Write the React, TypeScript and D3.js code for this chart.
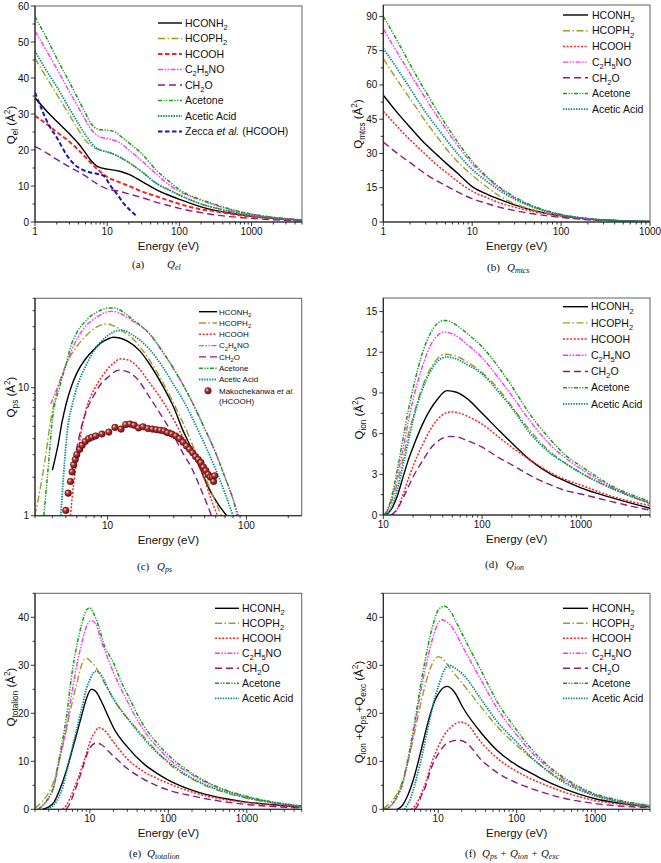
import React from 'react';
import * as d3 from 'd3';

type Pt = [number, number];

const legendLabels = ['HCONH_{2}', 'HCOPH_{2}', 'HCOOH', 'C_{2}H_{5}NO', 'CH_{2}O', 'Acetone', 'Acetic Acid'];
const seriesKeys = ['HCONH2', 'HCOPH2', 'HCOOH', 'C2H5NO', 'CH2O', 'Acetone', 'AceticAcid'];

// (a) Q_el
const elHCONH2: Pt[] = [[1,34.5],[1.5,30.5],[2,28],[3,24.5],[4,21.8],[5,19.2],[6,17],[7,15.7],[8,15.1],[10,14.7],[15,14.1],[20,13.2],[30,11.3],[50,8.8],[70,7.5],[100,6.3],[200,4.2],[300,3.3],[500,2.5],[1000,1.6],[2000,1.0],[5000,0.5]];
const elHCOPH2: Pt[] = [[1,45.5],[1.5,39.5],[2,35.5],[3,29.7],[4,25.6],[5,22.7],[6,21.2],[7,20.4],[8,20],[10,19.5],[15,18],[20,16.5],[30,14],[50,10.5],[70,9],[100,7.5],[200,5],[300,4],[500,3],[1000,1.8],[2000,1.1],[5000,0.5]];
const elHCOOH: Pt[] = [[1,29.5],[1.5,27],[2,25],[3,22.3],[4,20],[5,18],[6,16.3],[7,15],[8,14],[10,12.5],[15,11],[20,10],[30,8.5],[50,7],[70,6],[100,5],[200,3.5],[300,3],[500,2.3],[1000,1.5],[2000,1],[5000,0.4]];
const elC2H5NO: Pt[] = [[1,53],[1.5,47],[2,42.6],[3,36.2],[4,31.8],[5,28.3],[6,25.7],[7,24.3],[8,23.6],[10,23.2],[15,22],[20,20],[30,17],[50,13],[70,10.5],[100,8.5],[200,6],[300,4.8],[500,3.5],[1000,2.2],[2000,1.3],[5000,0.6]];
const elCH2O: Pt[] = [[1,21],[1.5,19],[2,17.4],[3,15.3],[5,12.8],[7,10.8],[10,9.2],[15,8.5],[20,7.8],[30,6.8],[50,5.4],[70,4.6],[100,3.8],[200,2.6],[300,2],[500,1.5],[1000,1],[2000,0.6],[5000,0.3]];
const elAcetone: Pt[] = [[1,57],[1.5,50.5],[2,45.5],[3,38.8],[4,34],[5,30.2],[6,27.3],[7,26],[8,25.6],[10,25.5],[13,25],[15,24],[20,22],[30,19],[50,14],[70,11.5],[100,9],[200,6.2],[300,5],[500,3.6],[1000,2.2],[2000,1.3],[5000,0.6]];
const elAceticAcid: Pt[] = [[1,47.5],[1.5,41.5],[2,37.6],[3,31.5],[4,27.3],[5,24.2],[6,22],[7,20.6],[8,20],[10,19.5],[15,18],[20,16.5],[30,14],[50,10.5],[70,9],[100,7.5],[200,5],[300,4],[500,3],[1000,1.9],[2000,1.1],[5000,0.5]];
const elZecca: Pt[] = [[1,36],[1.6,26.5],[2,23.5],[2.76,18.5],[3.5,16],[4.7,14.4],[6,13.7],[7.2,13.4],[9,12.8],[11,10.2],[14,7.5],[17,5.1],[21,3.2],[25,1.8]];

// (b) Q_mtcs
const mtHCONH2: Pt[] = [[1,55.5],[1.5,47],[2,41.5],[3,34],[4,29.5],[5,26],[7,21],[10,15.5],[15,12],[20,10],[30,7.5],[50,5],[100,2.7],[200,1.3],[500,0.5],[1000,0.2]];
const mtHCOPH2: Pt[] = [[1,71.5],[1.5,61],[2,54],[3,44],[4,37.5],[5,32.5],[7,26],[10,20.5],[15,15],[20,11.5],[30,8],[50,5.2],[100,2.8],[200,1.3],[500,0.5],[1000,0.2]];
const mtHCOOH: Pt[] = [[1,48.5],[1.5,41],[2,36],[3,29.5],[4,25],[5,22],[7,17.5],[10,13.5],[15,10.5],[20,8.5],[30,6.5],[50,4.5],[100,2.5],[200,1.2],[500,0.4],[1000,0.15]];
const mtC2H5NO: Pt[] = [[1,84.5],[1.5,73],[2,65],[3,54],[4,46.5],[5,41],[7,33],[10,25.5],[15,19],[20,15],[30,10.5],[50,6.5],[100,3.2],[200,1.5],[500,0.5],[1000,0.2]];
const mtCH2O: Pt[] = [[1,35],[1.5,29.5],[2,26],[3,21],[4,18],[5,16],[7,13],[10,10.2],[15,8],[20,6.5],[30,5],[50,3.5],[100,2],[200,1],[500,0.4],[1000,0.15]];
const mtAcetone: Pt[] = [[1,90],[1.5,78],[2,69],[3,57],[4,49],[5,43],[7,34.5],[10,26.5],[15,19.5],[20,15.5],[30,11],[50,6.8],[100,3.3],[200,1.5],[500,0.5],[1000,0.2]];
const mtAceticAcid: Pt[] = [[1,76],[1.5,66],[2,58.5],[3,48],[4,41.5],[5,36.5],[7,29.5],[10,23],[15,17.5],[20,14],[30,10],[50,6.3],[100,3.1],[200,1.4],[500,0.5],[1000,0.2]];

// (c) Q_ps
const psHCONH2: Pt[] = [[4,2.27],[4.4,3.6],[4.7,5.4],[5,7.3],[5.5,10.3],[6,13],[7,17],[8,20],[9,22.5],[10,24],[11,24.8],[12,24.6],[14,23],[17,19.5],[20,15.4],[25,10.3],[30,7],[35,4.6],[40,3.4],[46,2.4],[55,1.55],[62,1.25],[72,1]];
const psHCOPH2: Pt[] = [[3,1],[3.5,2.5],[3.9,5.6],[4.5,11],[5,15],[6,21],[7,25.5],[8,29],[9,31],[10,31.5],[11,30.5],[13,27.5],[15,24.5],[20,16.5],[25,11],[30,7.5],[40,3.8],[46,2.6],[55,1.6],[66,1]];
const psHCOOH: Pt[] = [[5.4,1],[5.7,1.8],[6,2.7],[6.7,5.6],[7,6.8],[8,9.7],[9,12],[10,14],[11,15.5],[12.3,16.8],[14,16.5],[16,15],[20,11],[25,7.8],[30,5.6],[35,4.1],[40,3.2],[50,1.9],[57,1.25],[62,1]];
const psC2H5NO: Pt[] = [[3.9,7.5],[4.5,11],[5,15],[6,24],[7,30.5],[8,34.5],[9,37.5],[10,39.3],[11,39.5],[13,37],[15,33.5],[20,26.5],[25,19],[30,14],[40,8],[50,4.8],[60,3.1],[70,2],[80,1.35],[88,1]];
const psCH2O: Pt[] = [[5.5,2.2],[6,3.4],[6.5,5],[7,6.5],[8,8.8],[9,10.8],[10,12],[12,13.7],[14,13.3],[16,12],[20,8.5],[25,5.8],[30,4.2],[35,3.06],[40,2.4],[46,1.7],[53,1.17],[56,1]];
const psAcetone: Pt[] = [[3.47,1],[3.75,2.5],[4,5.6],[4.5,10],[5,15],[5.5,22],[6,27],[7,33.5],[8,38],[9,40.5],[10,42],[11,42],[13,39],[15,34.5],[20,26.4],[25,19],[30,14],[40,8],[50,4.8],[60,3.1],[70,2],[80,1.35],[86,1]];
const psAceticAcid: Pt[] = [[4.6,1],[5.25,5.6],[5.5,7],[6,10],[7,15],[8,19.5],[9,23],[10,25.5],[12,28],[13,28],[15,26],[20,20],[25,14.5],[30,10.5],[35,8],[46,4.4],[60,2.3],[70,1.5],[80,1]];
const psMakochekanwa: Pt[] = [[5.0,1.1],[5.2,1.5],[5.4,1.85],[5.55,2.2],[5.7,2.5],[5.85,2.75],[6.0,3.0],[6.3,3.3],[6.55,3.55],[6.9,3.8],[7.3,4.0],[7.7,4.1],[8.2,4.2],[9.1,4.35],[10.2,4.5],[11.3,4.9],[12.5,4.75],[13.5,5.15],[14.5,5.2],[15.5,5.1],[16.7,4.85],[18,4.95],[19.5,4.8],[21,4.75],[22.5,4.7],[24,4.65],[25.5,4.6],[27,4.45],[29,4.35],[31,4.2],[33,4.0],[35,3.75],[37,3.5],[39,3.3],[41,3.1],[43,2.9],[45,2.75],[47,2.6],[49,2.4],[51,2.25],[53,2.1],[55,2.0],[57,2.0],[58,1.85],[59,2.05]];

// (d) Q_ion
const ionHCONH2: Pt[] = [[10.5,0],[12,0.4],[14,1.5],[16,2.9],[18,4.1],[20,5],[25,6.7],[30,7.8],[35,8.5],[44,9.17],[55,9.05],[70,8.6],[100,7.5],[150,6.2],[200,5.3],[300,4.1],[500,3.0],[700,2.5],[1000,2.0],[2000,1.3],[5000,0.5]];
const ionHCOPH2: Pt[] = [[10.2,0],[11,0.3],[12,0.9],[14,2.5],[16,4.3],[18,6],[20,7.2],[25,9.5],[30,10.8],[35,11.5],[42,11.85],[55,11.7],[70,11.3],[100,10.5],[150,9.2],[200,8],[300,6.3],[500,4.6],[700,3.8],[1000,3.1],[2000,2.0],[5000,0.85]];
const ionHCOOH: Pt[] = [[12.5,0],[14,0.5],[16,1.6],[18,2.7],[20,3.6],[25,5.2],[30,6.3],[35,7.0],[48,7.6],[60,7.5],[70,7.3],[100,6.7],[150,5.7],[200,5.0],[300,4.1],[500,3.1],[700,2.6],[1000,2.2],[2000,1.4],[5000,0.7]];
const ionC2H5NO: Pt[] = [[10.3,0],[11,0.3],[12,1],[14,3],[16,5],[18,7],[20,8.5],[25,11],[30,12.5],[35,13.2],[41,13.5],[55,13.2],[70,12.6],[100,11.6],[150,10.0],[200,8.8],[300,7],[500,5.1],[700,4.2],[1000,3.4],[2000,2.1],[5000,0.9]];
const ionCH2O: Pt[] = [[12,0],[14,0.5],[16,1.3],[18,2.1],[20,2.8],[25,4.0],[30,4.9],[35,5.4],[48,5.8],[60,5.7],[70,5.5],[100,5.0],[150,4.2],[200,3.7],[300,2.95],[500,2.2],[700,1.8],[1000,1.55],[2000,1.0],[5000,0.35]];
const ionAcetone: Pt[] = [[10.2,0],[11,0.4],[12,1.2],[14,3.5],[16,5.8],[18,7.8],[20,9.3],[25,12],[30,13.4],[35,14.1],[42,14.35],[55,14.0],[70,13.4],[100,12.4],[150,10.8],[200,9.5],[300,7.5],[500,5.5],[700,4.4],[1000,3.6],[2000,2.2],[5000,1.0]];
const ionAceticAcid: Pt[] = [[10.8,0],[12,0.5],[14,2],[16,3.8],[18,5.5],[20,7],[25,9.3],[30,10.6],[35,11.3],[44,11.65],[55,11.5],[70,11.1],[100,10.4],[150,9.0],[200,7.9],[300,6.1],[500,4.5],[700,3.8],[1000,3.1],[2000,2.0],[5000,0.85]];

// (e) Q_totalion
const totHCONH2: Pt[] = [[2.5,0],[3,0.5],[3.5,1.5],[4,3.5],[5,8],[6,12.5],[7,16.5],[8,20],[9,23],[10.5,25],[12,24.5],[14,22.5],[17,19.5],[20,17],[30,13],[50,9.3],[70,7.6],[100,6.1],[200,4.0],[300,3.1],[500,2.3],[1000,1.5],[2000,1],[5000,0.5]];
const totHCOPH2: Pt[] = [[2,0.2],[2.5,1.7],[3,3.5],[3.5,6],[4,9.5],[5,16.5],[6,22.5],[7,27],[8,30.5],[9,31.5],[10,31],[12,29.5],[14,27.5],[17,25],[21,22.4],[30,19],[47,15.4],[70,12.2],[100,9.6],[200,6.3],[300,4.9],[500,3.6],[1000,2.3],[2000,1.4],[5000,0.6]];
const totHCOOH: Pt[] = [[4.5,0],[5,0.8],[6,3.5],[7,6.3],[8,9],[9,11.5],[10,14],[11.5,16],[13,17],[15,16.6],[20,14],[30,10.5],[47,8.0],[70,6.5],[100,5.4],[200,3.6],[300,2.8],[500,2.1],[1000,1.4],[2000,0.9],[5000,0.4]];
const totC2H5NO: Pt[] = [[2.2,0],[2.5,0.7],[3,2.3],[3.5,4.8],[4,9.5],[5,17],[6,25],[7,31],[8,35],[9,38],[10.5,39.3],[12,38.5],[14,35],[16,32.5],[20,28.5],[26,24.5],[30,22.5],[47,16.8],[70,13.2],[100,10.6],[200,7.2],[300,5.6],[500,4.1],[1000,2.6],[2000,1.5],[5000,0.7]];
const totCH2O: Pt[] = [[5,0],[5.5,1],[6,2.5],[7,5.5],[8,8.3],[9,11],[10,12.8],[12,13.8],[14,13.5],[17,12.2],[21.5,10.6],[30,8.5],[47,6.4],[70,5],[100,4],[200,2.8],[300,2.2],[500,1.6],[1000,1],[2000,0.6],[5000,0.3]];
const totAcetone: Pt[] = [[2.2,0],[2.5,0.8],[3,2.5],[3.5,5],[4,10],[5,19],[6,29],[7,35],[8,39],[9,41.5],[10,42],[11,41],[13,38],[15,34.5],[20,30.5],[26,26],[30,24],[47,17.8],[70,14],[100,11.3],[200,7.5],[300,5.8],[500,4.2],[1000,2.7],[2000,1.6],[5000,0.7]];
const totAceticAcid: Pt[] = [[2.9,0],[3.5,1],[4,2.5],[4.5,4.5],[5,7.5],[6,13],[7,17.5],[8,21.5],[9,25],[10,27],[12,28.8],[14,28],[16,26],[20,23],[26,20.3],[30,19],[47,15],[70,12],[100,9.9],[200,6.5],[300,5.1],[500,3.8],[1000,2.4],[2000,1.5],[5000,0.6]];

// (f) Q_ps + Q_ion + Q_exc
const sumHCONH2: Pt[] = [[3,0],[3.5,0.8],[4,2.5],[5,7],[6,12],[7,16.5],[8,20],[9,22.5],[10,24],[13,25.6],[16,24.5],[21,21],[35,16],[57,12.2],[100,9.2],[150,7.6],[200,6.5],[400,4.3],[1000,2.2],[2000,1.3],[5000,0.5]];
const sumHCOPH2: Pt[] = [[2,0.2],[2.5,1.5],[3,3.3],[3.5,5.8],[4,9],[5,16],[6,22],[7,26.5],[8,29.5],[9,31.2],[10,31.8],[12,31],[14,29.5],[17,27.8],[21.4,25.8],[35,21.4],[57,17.2],[100,13.3],[150,10.8],[200,9.2],[400,5.9],[1000,2.9],[2000,1.6],[5000,0.55]];
const sumHCOOH: Pt[] = [[4.5,0],[5,0.6],[6,3],[7,5.8],[8,9],[10,13],[12,15.5],[15,17.3],[19,18.2],[23,17.8],[35,14],[57,10.6],[100,7.9],[150,6.4],[200,5.5],[400,3.6],[1000,1.8],[2000,1.1],[5000,0.5]];
const sumC2H5NO: Pt[] = [[2.2,0],[2.5,0.7],[3,2.5],[3.5,5],[4,9],[5,17],[6,24.5],[7,30],[8,34],[9,37],[10,38.8],[11.3,39.5],[12,39.3],[14,38.6],[17,36.5],[21,33.6],[35,27],[57,20.9],[100,15.5],[150,12.1],[200,10.1],[400,6.3],[1000,3.05],[2000,1.8],[5000,0.76]];
const sumCH2O: Pt[] = [[5,0],[5.5,0.8],[6,2.5],[7,5],[8,8.2],[10,11.5],[12,13.3],[15,14.2],[18.5,14.4],[23,13.8],[35,10.4],[57,7.6],[100,5.5],[150,4.4],[200,3.7],[400,2.3],[1000,1.2],[2000,0.7],[5000,0.35]];
const sumAcetone: Pt[] = [[2,0],[2.5,0.8],[3,2.8],[3.5,5.5],[4,9.5],[5,18],[6,26],[7,32],[8,36.5],[9,39.5],[10,41.5],[12,42.3],[14,41.5],[17,39],[21,36],[35,29],[57,22.3],[100,16.5],[150,12.8],[200,10.6],[400,6.6],[1000,3.2],[2000,1.9],[5000,0.8]];
const sumAceticAcid: Pt[] = [[3.7,0],[4,0.8],[4.5,2.5],[5,5],[6,10],[7,15],[8,19.5],[9,23],[10,25.5],[12,29],[13.8,30],[16,29.5],[21,28],[35,23],[57,18.2],[100,14],[150,11],[200,9.2],[400,5.6],[1000,2.8],[2000,1.6],[5000,0.55]];

interface Sty { color: string; dash: string; w: number; }
const STY: Record<string, Sty> = {
  HCONH2: { color: '#000000', dash: '', w: 1.4 },
  HCOPH2: { color: '#9d9d22', dash: '7,2.5,1.5,2.5', w: 1.4 },
  HCOOH: { color: '#ff2020', dash: '2,1.6', w: 1.5 },
  C2H5NO: { color: '#ff33ff', dash: '5,1.5,1.5,1.5,1.5,1.5', w: 1.4 },
  CH2O: { color: '#8b1a8b', dash: '7,4', w: 1.4 },
  Acetone: { color: '#12a012', dash: '4,1.5,1.2,1.5,1.2,1.5', w: 1.5 },
  AceticAcid: { color: '#0a8a8a', dash: '1.4,1.2', w: 1.8 },
};
const STY_A_HCOOH: Sty = { color: '#ff2020', dash: '4.5,2.5', w: 2 };
const STY_ZECCA: Sty = { color: '#1a1ab0', dash: '4.5,2.5', w: 2 };

const SANS = 'Liberation Sans, Arial, Helvetica, sans-serif';
const SERIF = 'Liberation Serif, Times New Roman, serif';

function rich(s: string, fs: number, subShift = 0.3) {
  const parts = s.match(/_\{[^}]*\}|\^\{[^}]*\}|\*[^*]*\*|[^_^*]+/g) || [];
  let shift = 0;
  return parts.map((p, i) => {
    let txt = p;
    let size = fs;
    let dy = 0;
    let italic = false;
    if (p.startsWith('_{')) {
      txt = p.slice(2, -1);
      const t = fs * subShift;
      dy = t - shift; shift = t; size = fs * 0.72;
    } else if (p.startsWith('^{')) {
      txt = p.slice(2, -1);
      const t = -fs * 0.42;
      dy = t - shift; shift = t; size = fs * 0.72;
    } else {
      if (p.startsWith('*')) { txt = p.slice(1, -1); italic = true; }
      dy = -shift; shift = 0;
    }
    return (
      <tspan key={i} dy={dy} fontSize={size} fontStyle={italic ? 'italic' : undefined}>{txt}</tspan>
    );
  });
}

interface SeriesDef { data: Pt[]; sty: Sty; markers?: boolean; }
interface LegendItem { label: string; sty: Sty; markers?: boolean; }
interface PanelCfg {
  id: string;
  left: number; right: number; top: number; bottom: number;
  xDomain: [number, number]; yDomain: [number, number];
  yLog: boolean; yStep: number;
  series: SeriesDef[];
  legend: { x0: number; x1: number; tx: number; y0: number; dy: number; fs: number; items: LegendItem[]; extra?: string };
  ylabel: string; ylx: number; lly: number;
  cap: { lx: number; qx: number; y: number; letter: string; q: string };
}

function mk(arrs: Pt[][], first?: Sty): SeriesDef[] {
  return arrs.map((d, i) => ({ data: d, sty: i === 2 && first ? first : STY[seriesKeys[i]] }));
}
function legItems(special?: Sty): LegendItem[] {
  return legendLabels.map((l, i) => ({ label: l, sty: i === 2 && special ? special : STY[seriesKeys[i]] }));
}

const panels: PanelCfg[] = [
  {
    id: 'a', left: 35, right: 302, top: 6, bottom: 222, xDomain: [1, 5000], yDomain: [0, 60], yLog: false, yStep: 10,
    series: [...mk([elHCONH2, elHCOPH2, elHCOOH, elC2H5NO, elCH2O, elAcetone, elAceticAcid], STY_A_HCOOH), { data: elZecca, sty: STY_ZECCA }],
    legend: { x0: 158, x1: 182, tx: 185, y0: 23, dy: 15.5, fs: 10.5, items: [...legItems(STY_A_HCOOH), { label: 'Zecca *et al.* (HCOOH)', sty: STY_ZECCA }] },
    ylabel: 'Q_{el} (Å^{2})', ylx: 15, lly: 125,
    cap: { lx: 132, qx: 167, y: 268, letter: '(a)', q: 'Q_{el}' },
  },
  {
    id: 'b', left: 383.3, right: 650, top: 5, bottom: 222, xDomain: [1, 1000], yDomain: [0, 95], yLog: false, yStep: 15,
    series: mk([mtHCONH2, mtHCOPH2, mtHCOOH, mtC2H5NO, mtCH2O, mtAcetone, mtAceticAcid]),
    legend: { x0: 563, x1: 588, tx: 592, y0: 15, dy: 15.7, fs: 10.5, items: legItems() },
    ylabel: 'Q_{mtcs} (Å^{2})', ylx: 362, lly: 124,
    cap: { lx: 487, qx: 507, y: 271, letter: '(b)', q: 'Q_{mtcs}' },
  },
  {
    id: 'c', left: 35, right: 301.7, top: 298.3, bottom: 515.7, xDomain: [3, 250], yDomain: [1, 50], yLog: true, yStep: 0,
    series: [...mk([psHCONH2, psHCOPH2, psHCOOH, psC2H5NO, psCH2O, psAcetone, psAceticAcid]), { data: psMakochekanwa, sty: { color: '#7a0f0f', dash: '', w: 0 }, markers: true }],
    legend: { x0: 199, x1: 217, tx: 219, y0: 311.7, dy: 11.3, fs: 8, items: [...legItems(), { label: 'Makochekanwa *et al.*', sty: { color: '#7a0f0f', dash: '', w: 0 }, markers: true }], extra: '(HCOOH)' },
    ylabel: 'Q_{ps} (Å^{2})', ylx: 15, lly: 397,
    cap: { lx: 137, qx: 157, y: 570, letter: '(c)', q: 'Q_{ps}' },
  },
  {
    id: 'd', left: 383.3, right: 650, top: 298, bottom: 515, xDomain: [10, 5000], yDomain: [0, 16], yLog: false, yStep: 3,
    series: mk([ionHCONH2, ionHCOPH2, ionHCOOH, ionC2H5NO, ionCH2O, ionAcetone, ionAceticAcid]),
    legend: { x0: 563, x1: 588, tx: 591, y0: 306.7, dy: 16.2, fs: 10.5, items: legItems() },
    ylabel: 'Q_{ion} (Å^{2})', ylx: 363, lly: 418,
    cap: { lx: 485, qx: 506, y: 568, letter: '(d)', q: 'Q_{ion}' },
  },
  {
    id: 'e', left: 35, right: 301.7, top: 593.3, bottom: 809.3, xDomain: [2, 5000], yDomain: [0, 45], yLog: false, yStep: 10,
    series: mk([totHCONH2, totHCOPH2, totHCOOH, totC2H5NO, totCH2O, totAcetone, totAceticAcid]),
    legend: { x0: 215, x1: 239, tx: 242, y0: 608.3, dy: 15, fs: 10.5, items: legItems() },
    ylabel: 'Q_{totalion} (Å^{2})', ylx: 15, lly: 697,
    cap: { lx: 129, qx: 147, y: 857, letter: '(e)', q: 'Q_{totalion}' },
  },
  {
    id: 'f', left: 383.3, right: 650, top: 593.3, bottom: 809.3, xDomain: [2, 5000], yDomain: [0, 45], yLog: false, yStep: 10,
    series: mk([sumHCONH2, sumHCOPH2, sumHCOOH, sumC2H5NO, sumCH2O, sumAcetone, sumAceticAcid]),
    legend: { x0: 563, x1: 588, tx: 592, y0: 608.3, dy: 15, fs: 10.5, items: legItems() },
    ylabel: 'Q_{ion} +Q_{ps} +Q_{exc} (Å^{2})', ylx: 363, lly: 712,
    cap: { lx: 465, qx: 482, y: 857, letter: '(f)', q: 'Q_{ps} + Q_{ion} + Q_{exc}' },
  },
];

function logTicks(d0: number, d1: number) {
  const out: { v: number; major: boolean }[] = [];
  for (let n = Math.floor(Math.log10(d0)); n <= Math.ceil(Math.log10(d1)); n++) {
    for (let k = 1; k <= 9; k++) {
      const v = k * Math.pow(10, n);
      if (v >= d0 * 0.999 && v <= d1 * 1.001) out.push({ v, major: k === 1 });
    }
  }
  return out;
}

function Marker({ x, y, r, gid }: { x: number; y: number; r: number; gid: string }) {
  return <circle cx={x} cy={y} r={r} fill={`url(#${gid})`} stroke="#5a0808" strokeWidth={0.5} />;
}

function Panel({ p }: { p: PanelCfg }) {
  const xs = d3.scaleLog().domain(p.xDomain).range([p.left, p.right]);
  const ys = p.yLog
    ? d3.scaleLog().domain(p.yDomain).range([p.bottom, p.top])
    : d3.scaleLinear().domain(p.yDomain).range([p.bottom, p.top]);
  const line = d3.line<Pt>().x(d => xs(d[0])).y(d => ys(d[1])).curve(d3.curveMonotoneX);
  const xt = logTicks(p.xDomain[0], p.xDomain[1]);
  let yt: { v: number; major: boolean }[] = [];
  if (p.yLog) yt = logTicks(p.yDomain[0], p.yDomain[1]);
  else {
    const half = p.yStep / 2;
    for (let v = p.yDomain[0]; v <= p.yDomain[1] + 1e-9; v += half) {
      yt.push({ v, major: Math.abs(v / p.yStep - Math.round(v / p.yStep)) < 1e-6 });
    }
  }
  const clip = `clip-${p.id}`;
  const gid = `grad-${p.id}`;
  const L = p.legend;
  return (
    <g>
      <defs>
        <clipPath id={clip}><rect x={p.left} y={p.top} width={p.right - p.left} height={p.bottom - p.top} /></clipPath>
        <radialGradient id={gid} cx="0.35" cy="0.35" r="0.7">
          <stop offset="0" stopColor="#ffd8d8" />
          <stop offset="0.35" stopColor="#b23a3a" />
          <stop offset="1" stopColor="#6a0a0a" />
        </radialGradient>
      </defs>
      <rect x={p.left} y={p.top} width={p.right - p.left} height={p.bottom - p.top} fill="none" stroke="#606060" strokeWidth={1} />
      <g clipPath={`url(#${clip})`}>
        {p.series.map((s, i) =>
          s.markers ? (
            <g key={i}>{s.data.map((d, j) => <Marker key={j} x={xs(d[0])} y={ys(d[1])} r={3.3} gid={gid} />)}</g>
          ) : (
            <path key={i} d={line(s.data) || ''} fill="none" stroke={s.sty.color} strokeWidth={s.sty.w}
              strokeDasharray={s.sty.dash || undefined} strokeLinejoin="round" />
          )
        )}
      </g>
      <line x1={p.left} x2={p.left} y1={p.top} y2={p.bottom} stroke="#222" strokeWidth={1.1} />
      <line x1={p.left} x2={p.right} y1={p.bottom} y2={p.bottom} stroke="#222" strokeWidth={1.1} />
      {xt.map((t, i) => (
        <g key={i}>
          <line x1={xs(t.v)} x2={xs(t.v)} y1={p.bottom} y2={p.bottom + (t.major ? 4 : 2.5)} stroke="#222" strokeWidth={0.9} />
          {t.major && (
            <text x={xs(t.v)} y={p.bottom + 13} textAnchor="middle" fontSize={10} fontFamily={SANS} fill="#111">{t.v}</text>
          )}
        </g>
      ))}
      {yt.map((t, i) => (
        <g key={i}>
          <line x1={p.left - (t.major ? 4 : 2.5)} x2={p.left} y1={ys(t.v)} y2={ys(t.v)} stroke="#222" strokeWidth={0.9} />
          {t.major && (
            <text x={p.left - 6} y={ys(t.v) + 3.5} textAnchor="end" fontSize={10} fontFamily={SANS} fill="#111">{t.v}</text>
          )}
        </g>
      ))}
      <text x={(p.left + p.right) / 2} y={p.bottom + 28} textAnchor="middle" fontSize={11.5} fontFamily={SANS} fill="#111">Energy (eV)</text>
      <text transform={`translate(${p.ylx},${p.lly}) rotate(-90)`} textAnchor="middle" fontSize={11.5} fontFamily={SANS} fill="#111">
        {rich(p.ylabel, 11.5)}
      </text>
      {L.items.map((it, i) => {
        const y = L.y0 + i * L.dy;
        return (
          <g key={i}>
            {it.markers ? (
              <Marker x={(L.x0 + L.x1) / 2} y={y} r={3.3} gid={gid} />
            ) : (
              <line x1={L.x0} x2={L.x1} y1={y} y2={y} stroke={it.sty.color} strokeWidth={it.sty.w} strokeDasharray={it.sty.dash || undefined} />
            )}
            <text x={L.tx} y={y + L.fs * 0.36} fontSize={L.fs} fontFamily={SANS} fill="#111">{rich(it.label, L.fs)}</text>
          </g>
        );
      })}
      {L.extra && (
        <text x={L.tx} y={L.y0 + L.items.length * L.dy - 1 + L.fs * 0.36} fontSize={L.fs} fontFamily={SANS} fill="#111">{L.extra}</text>
      )}
      <text x={p.cap.lx} y={p.cap.y} fontSize={11} fontFamily={SERIF} fill="#111">{p.cap.letter}</text>
      <text x={p.cap.qx} y={p.cap.y} fontSize={11} fontFamily={SERIF} fontStyle="italic" fill="#111">{rich(p.cap.q, 11, 0.22)}</text>
    </g>
  );
}

export default function App() {
  return (
    <svg width={661} height={863} viewBox="0 0 661 863" style={{ position: 'absolute', left: 0, top: 0, background: '#fff' }}>
      <rect x={0} y={0} width={661} height={863} fill="#fff" />
      {panels.map(p => <Panel key={p.id} p={p} />)}
    </svg>
  );
}
